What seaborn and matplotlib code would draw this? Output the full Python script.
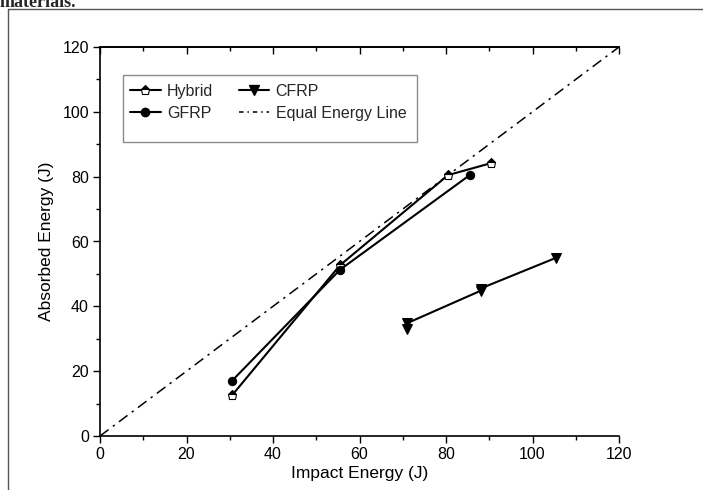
import matplotlib
matplotlib.use("Agg")
import matplotlib.pyplot as plt
import seaborn as sns
import numpy as np
import pandas as pd
from matplotlib.lines import Line2D
from matplotlib.patches import Rectangle

# ---- data ----
hybrid_x = [30.5, 55.5, 80.5, 90.5]
hybrid_y = [12.5, 52.7, 80.5, 84.2]
gfrp_x = [30.5, 55.5, 85.5]
gfrp_y = [17.0, 51.3, 80.5]
cfrp_x = [71.0, 71.0, 88.0, 88.0, 105.5]
cfrp_y = [33.0, 34.8, 44.8, 45.5, 55.0]
equal_x = [0, 120]
equal_y = [0, 120]
x_ticks = [0, 20, 40, 60, 80, 100, 120]
y_ticks = [0, 20, 40, 60, 80, 100, 120]
x_label = "Impact Energy (J)"
y_label = "Absorbed Energy (J)"

sns.set_theme(style="white")
plt.rcParams['font.family'] = ['Liberation Sans', 'DejaVu Sans']

fig = plt.figure(figsize=(7.03, 4.90), dpi=100)
ax = fig.add_axes([100/703, 54/490, 519/703, 389/490])

df_h = pd.DataFrame({"x": hybrid_x, "y": hybrid_y})
df_g = pd.DataFrame({"x": gfrp_x, "y": gfrp_y})
df_c = pd.DataFrame({"x": cfrp_x, "y": cfrp_y})
df_e = pd.DataFrame({"x": equal_x, "y": equal_y})

common = dict(ax=ax, sort=False, estimator=None, errorbar=None, color="black")
sns.lineplot(data=df_e, x="x", y="y", lw=1.1, linestyle=(0, (7, 3.5, 1.5, 3.5)), **common)
sns.lineplot(data=df_h, x="x", y="y", lw=1.5,
             marker="p", markersize=6.5, markerfacecolor="black", markerfacecoloralt="white",
             fillstyle="top", markeredgecolor="black", markeredgewidth=0.8, **common)
sns.lineplot(data=df_g, x="x", y="y", lw=1.5,
             marker="o", markersize=6, markerfacecolor="black", markeredgecolor="black", **common)
sns.lineplot(data=df_c, x="x", y="y", lw=1.5,
             marker="v", markersize=7, markerfacecolor="black", markeredgecolor="black", **common)

ax.set_xlim(0, 120)
ax.set_ylim(0, 120)
ax.set_xticks(x_ticks)
ax.set_yticks(y_ticks)
ax.set_xticks(np.arange(10, 120, 20), minor=True)
ax.set_yticks(np.arange(10, 120, 20), minor=True)
ax.tick_params(axis="both", which="major", direction="out", length=5, width=1.0,
               labelsize=11.5, color="black", labelcolor="black", pad=3)
ax.tick_params(axis="both", which="minor", direction="out", length=3, width=1.0, color="black")
ax.tick_params(axis="x", bottom=True, which="both")
ax.tick_params(axis="y", left=True, which="both")

for s in ["left", "bottom", "top"]:
    ax.spines[s].set_color("black")
    ax.spines[s].set_linewidth(1.2)
ax.spines["right"].set_visible(False)

sec = ax.secondary_xaxis("top")
sec.set_xticks(x_ticks)
sec.set_xticks(np.arange(10, 120, 20), minor=True)
sec.tick_params(axis="x", which="both", direction="in", labeltop=False, color="black")
sec.tick_params(axis="x", which="major", length=5, width=1.0)
sec.tick_params(axis="x", which="minor", length=3, width=1.0)
sec.spines["top"].set_linewidth(1.2)
sec.spines["top"].set_color("black")

ax.set_xlabel(x_label, fontsize=12.5, color="black", labelpad=3)
ax.set_ylabel(y_label, fontsize=12.5, color="black", labelpad=6)

# legend
handles = [
    Line2D([], [], color="black", lw=1.5, marker="p", markersize=6.5, markerfacecolor="black",
           markerfacecoloralt="white", fillstyle="top", markeredgecolor="black", markeredgewidth=0.8),
    Line2D([], [], color="black", lw=1.5, marker="o", markersize=6, markerfacecolor="black"),
    Line2D([], [], color="black", lw=1.5, marker="v", markersize=7, markerfacecolor="black"),
    Line2D([], [], color="black", lw=1.1, linestyle=(0, (3, 2.5, 1, 2.5))),
]
labels = ["Hybrid", "GFRP", "CFRP", "Equal Energy Line"]
leg = ax.legend(handles, labels, ncol=2, loc="upper left", bbox_to_anchor=(0.046, 0.922),
                frameon=False, fontsize=11.5, handlelength=1.9, handletextpad=0.4,
                columnspacing=1.6, labelspacing=0.45, borderaxespad=0)
ax.add_patch(Rectangle((23/519, (436-142)/389), 294/519, 67/389, transform=ax.transAxes,
                       fill=False, edgecolor="#8c8c8c", lw=1.0, zorder=5))

# page frame
fig.add_artist(Line2D([8/703, 1.0], [1 - 9/490, 1 - 9/490], transform=fig.transFigure,
                      color="#555555", lw=1.0))
fig.add_artist(Line2D([8/703, 8/703], [0, 1 - 9/490], transform=fig.transFigure,
                      color="#555555", lw=1.0))
fig.text(0.0, 1.0 + 6/490, "materials.", fontsize=13, fontweight="bold",
         family=["Liberation Serif", "DejaVu Serif"], va="top", ha="left")

fig.savefig("out.png", dpi=100)
